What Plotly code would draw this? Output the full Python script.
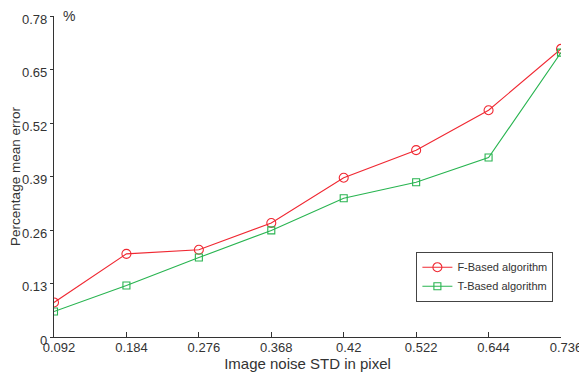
import plotly.graph_objects as go

noise_labels = ["0.092", "0.184", "0.276", "0.368", "0.42", "0.522", "0.644", "0.736"]
f_based = [0.084, 0.202, 0.212, 0.277, 0.387, 0.454, 0.551, 0.700]
t_based = [0.062, 0.125, 0.193, 0.259, 0.337, 0.376, 0.436, 0.691]
y_ticks = [0, 0.13, 0.26, 0.39, 0.52, 0.65, 0.78]
y_tick_text = ["0", "0.13", "0.26", "0.39", "0.52", "0.65", "0.78"]

idx = list(range(len(noise_labels)))
FONT = "Liberation Sans, Arial, sans-serif"

fig = go.Figure()
fig.add_trace(go.Scatter(
    x=idx, y=f_based, name="F-Based algorithm", mode="lines+markers",
    line=dict(color="rgb(240,40,50)", width=1.1),
    marker=dict(symbol="circle-open", size=9, color="rgb(240,40,50)", line=dict(width=1.1)),
))
fig.add_trace(go.Scatter(
    x=idx, y=t_based, name="T-Based algorithm", mode="lines+markers",
    line=dict(color="rgb(40,180,80)", width=1.1),
    marker=dict(symbol="square-open", size=7, color="rgb(40,180,80)", line=dict(width=1.1)),
))

# page body has an 8px margin, so the figure is sized/offset to land on the reference pixels
fig.update_layout(
    width=579, height=367,
    margin=dict(l=46, r=26, t=8, b=38),
    paper_bgcolor="white", plot_bgcolor="white",
    font=dict(family=FONT, color="#333333"),
    showlegend=True,
    legend=dict(
        x=0.985, y=0.11, xanchor="right", yanchor="bottom",
        bordercolor="#444444", borderwidth=1, bgcolor="white",
        font=dict(size=11, family=FONT, color="#333333"),
        tracegroupgap=0, itemwidth=30,
    ),
    xaxis=dict(
        range=[0, 7], tickvals=idx, ticktext=noise_labels,
        showgrid=False, zeroline=False, automargin=False,
        showline=True, linecolor="#333333", linewidth=1.2,
        ticks="inside", ticklen=5, tickcolor="#333333",
        tickfont=dict(size=13, family=FONT, color="#333333"),
        ticklabelshift=5, ticklabelstandoff=-2,
        title=dict(text="Image noise STD in pixel", font=dict(size=15, family=FONT, color="#333333"), standoff=0),
    ),
    yaxis=dict(
        range=[0, 0.78], tickvals=y_ticks, ticktext=y_tick_text,
        showgrid=False, zeroline=False, automargin=False,
        showline=True, linecolor="#333333", linewidth=1.2,
        ticks="outside", ticklen=3, tickcolor="#333333",
        tickfont=dict(size=13, family=FONT, color="#333333"),
        ticklabelshift=3,
        title=dict(text="Percentage mean error", font=dict(size=13.5, family=FONT, color="#333333"), standoff=4),
    ),
    annotations=[dict(
        x=0, y=1, xref="paper", yref="paper", text="%", showarrow=False,
        xanchor="left", yanchor="middle", xshift=7,
        font=dict(size=14, family=FONT, color="#333333"),
    )],
)

fig.write_html("out.html")
